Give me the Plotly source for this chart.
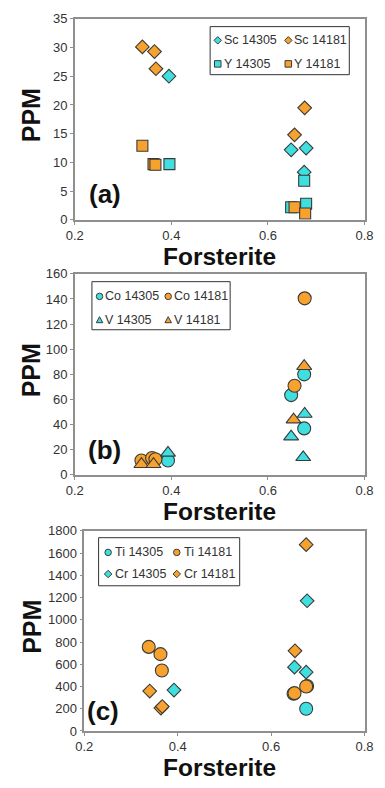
import plotly.graph_objects as go

W, H = 385, 788

# ---------------- data ----------------
# Panel (a)
sc_14305_x = [0.395, 0.648, 0.679, 0.675]
sc_14305_y = [25.0, 12.2, 12.5, 8.3]
sc_14181_x = [0.340, 0.365, 0.368, 0.655, 0.676]
sc_14181_y = [30.1, 29.3, 26.3, 14.8, 19.5]
y_14305_x = [0.396, 0.675, 0.679, 0.648]
y_14305_y = [9.7, 6.8, 2.8, 2.2]
y_14181_x = [0.340, 0.363, 0.367, 0.655, 0.677]
y_14181_y = [12.9, 9.7, 9.6, 2.2, 1.1]

# Panel (b)
co_14305_x = [0.393, 0.648, 0.675, 0.675]
co_14305_y = [11.5, 63.5, 80.0, 37.0]
co_14181_x = [0.338, 0.360, 0.367, 0.655, 0.676]
co_14181_y = [11.5, 13.5, 12.5, 71.0, 140.5]
v_14305_x = [0.393, 0.648, 0.676, 0.673]
v_14305_y = [17.5, 30.5, 48.5, 14.0]
v_14181_x = [0.338, 0.363, 0.653, 0.675]
v_14181_y = [8.5, 8.5, 44.0, 86.5]

# Panel (c)
ti_14305_x = [0.675, 0.648, 0.677]
ti_14305_y = [200, 335, 405]
ti_14181_x = [0.338, 0.363, 0.366, 0.650, 0.675]
ti_14181_y = [756, 691, 544, 340, 400]
cr_14305_x = [0.392, 0.650, 0.675, 0.677]
cr_14305_y = [368, 574, 529, 1171]
cr_14181_x = [0.340, 0.364, 0.367, 0.651, 0.675]
cr_14181_y = [359, 206, 220, 721, 1676]

x_ticks = [0.2, 0.4, 0.6, 0.8]
y_ranges = [(0, 35, 5), (0, 160, 20), (0, 1800, 200)]
panel_labels = ["(a)", "(b)", "(c)"]

CYAN = "#3fdfe0"
ORANGE = "#f7a22e"
EDGE = "#3a3a3a"
FONT = "Arial, Liberation Sans, sans-serif"

# ---------------- layout geometry (pixels) ----------------
def px(x):
    return x / W

def py(y):
    return 1 - y / H

panels = [
    dict(l=69, r=373, t=12, b=217),
    dict(l=69, r=373, t=272, b=477),
    dict(l=79, r=373, t=534, b=738),
]

fig = go.Figure()

def add(xs, ys, name, symbol, color, size, k):
    fig.add_trace(go.Scatter(
        x=xs, y=ys, mode="markers", name=name, showlegend=False,
        marker=dict(symbol=symbol, color=color, size=size,
                    line=dict(color=EDGE, width=1.1)),
        xaxis="x" if k == 0 else f"x{k+1}",
        yaxis="y" if k == 0 else f"y{k+1}",
    ))

# panel a (series order as drawn)
add(sc_14305_x, sc_14305_y, "Sc 14305", "diamond", CYAN, 10.5, 0)
add(sc_14181_x, sc_14181_y, "Sc 14181", "diamond", ORANGE, 10.5, 0)
add(y_14305_x, y_14305_y, "Y 14305", "square", CYAN, 11, 0)
add(y_14181_x, y_14181_y, "Y 14181", "square", ORANGE, 11, 0)
# panel b
add(co_14305_x, co_14305_y, "Co 14305", "circle", CYAN, 13, 1)
add(co_14181_x, co_14181_y, "Co 14181", "circle", ORANGE, 13, 1)
add(v_14305_x, v_14305_y, "V 14305", "triangle-up", CYAN, 13, 1)
add(v_14181_x, v_14181_y, "V 14181", "triangle-up", ORANGE, 13, 1)
# panel c
add(ti_14305_x, ti_14305_y, "Ti 14305", "circle", CYAN, 13, 2)
add(ti_14181_x, ti_14181_y, "Ti 14181", "circle", ORANGE, 13, 2)
add(cr_14305_x, cr_14305_y, "Cr 14305", "diamond", CYAN, 10.5, 2)
add(cr_14181_x, cr_14181_y, "Cr 14181", "diamond", ORANGE, 10.5, 2)

layout = dict(
    width=W, height=H, margin=dict(l=0, r=0, t=0, b=0),
    paper_bgcolor="white", plot_bgcolor="white", showlegend=False,
    font=dict(family=FONT, color="#333333", size=13),
)
annotations = []
shapes = []
for k, p in enumerate(panels):
    sfx = "" if k == 0 else str(k + 1)
    lo, hi, dt = y_ranges[k]
    axis_common = dict(showline=True, mirror=True, linecolor="#8f8f8f", linewidth=1.5,
                       showgrid=False, zeroline=False, ticks="outside", ticklen=3,
                       tickcolor="#8f8f8f", tickwidth=1, ticklabeloverflow="allow",
                       tickfont=dict(family=FONT, size=13, color="#333333"))
    layout["xaxis" + sfx] = dict(axis_common, domain=[px(p["l"]), px(p["r"])],
                                 range=[0.2, 0.8], tickvals=x_ticks,
                                 ticktext=[f"{v:.1f}" for v in x_ticks],
                                 anchor="y" + sfx)
    layout["yaxis" + sfx] = dict(axis_common, domain=[py(p["b"]), py(p["t"])],
                                 range=[lo, hi], dtick=dt, tick0=0,
                                 anchor="x" + sfx)
    cx = (p["l"] + p["r"]) / 2
    cy = (p["t"] + p["b"]) / 2
    annotations.append(dict(text="<b>Forsterite</b>", x=px(221), y=py(p["b"] + 37.5),
                            xref="paper", yref="paper", showarrow=False,
                            xanchor="center", yanchor="middle", borderpad=0,
                            font=dict(family=FONT, size=24.5, color="#111111")))
    annotations.append(dict(text="<b>PPM</b>", x=px(24), y=py(cy - 4),
                            xref="paper", yref="paper", showarrow=False, textangle=-90,
                            xanchor="center", yanchor="middle",
                            font=dict(family=FONT, size=25, color="#111111")))

label_pos = [(101, 191), (100, 452), (99, 718)]
for (lx, ly), lab in zip(label_pos, panel_labels):
    annotations.append(dict(text=f"<b>{lab}</b>", x=px(lx), y=py(ly),
                            xref="paper", yref="paper", showarrow=False,
                            xanchor="center", yanchor="middle",
                            font=dict(family=FONT, size=26, color="#111111")))

# ---------------- legends (drawn boxes) ----------------
def swatch(kind, cx, cy, color, s=6.5):
    h = s / 2
    base = dict(xref="paper", yref="paper", xsizemode="pixel", ysizemode="pixel",
                xanchor=px(cx), yanchor=py(cy), fillcolor=color,
                line=dict(color=EDGE, width=1), layer="above")
    if kind == "circle":
        return dict(base, type="circle", x0=-h, x1=h, y0=-h, y1=h)
    if kind == "square":
        return dict(base, type="rect", x0=-h, x1=h, y0=-h, y1=h)
    if kind == "diamond":
        d = h * 1.15
        return dict(base, type="path", path=f"M0,{d} L{d},0 L0,-{d} L-{d},0 Z")
    if kind == "triangle":
        return dict(base, type="path", path=f"M-{h},-{h*0.85} L{h},-{h*0.85} L0,{h*1.0} Z")

legends = [
    dict(box=(211, 357, 20, 69), rows=(34, 58), cols=((219, 223), (293, 297)),
         items=[[("diamond", CYAN, "Sc 14305"), ("diamond", ORANGE, "Sc 14181")],
                [("square", CYAN, "Y 14305"), ("square", ORANGE, "Y 14181")]]),
    dict(box=(87, 232, 280, 329), rows=(295, 319), cols=((95, 99), (167, 171)),
         items=[[("circle", CYAN, "Co 14305"), ("circle", ORANGE, "Co 14181")],
                [("triangle", CYAN, "V 14305"), ("triangle", ORANGE, "V 14181")]]),
    dict(box=(94, 242, 541, 590), rows=(556, 578), cols=((104, 109), (176, 181)),
         items=[[("circle", CYAN, "Ti 14305"), ("circle", ORANGE, "Ti 14181")],
                [("diamond", CYAN, "Cr 14305"), ("diamond", ORANGE, "Cr 14181")]]),
]
for lg in legends:
    x0, x1, y0, y1 = lg["box"]
    shapes.append(dict(type="rect", xref="paper", yref="paper",
                       x0=px(x0), x1=px(x1), y0=py(y1), y1=py(y0),
                       line=dict(color="#333333", width=1), fillcolor="white",
                       layer="above"))
    for r, row in zip(lg["rows"], lg["items"]):
        for (mx, tx), (kind, color, name) in zip(lg["cols"], row):
            shapes.append(swatch(kind, mx, r, color))
            annotations.append(dict(text=name, x=px(tx), y=py(r), xref="paper",
                                    yref="paper", showarrow=False, xanchor="left",
                                    yanchor="middle",
                                    font=dict(family=FONT, size=12.5, color="#333333")))

layout["annotations"] = annotations
layout["shapes"] = shapes
fig.update_layout(**layout)
fig.write_html("out.html", config={"displayModeBar": False},
               post_script="document.body.style.margin='0px';")
